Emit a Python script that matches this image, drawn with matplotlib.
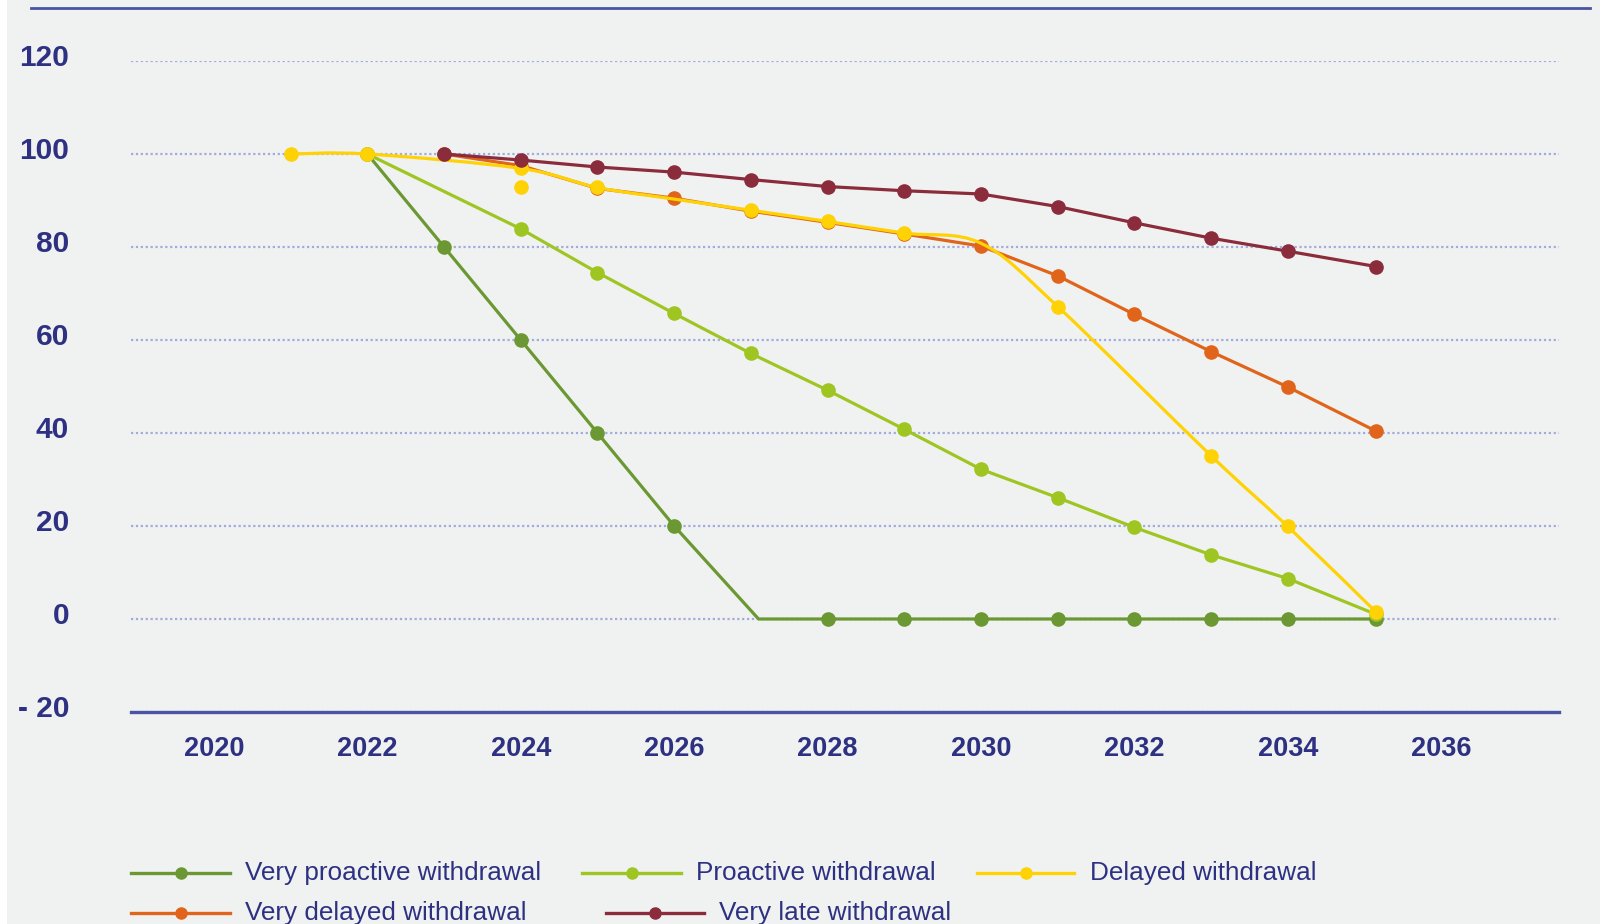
import numpy as np
import matplotlib
matplotlib.use("Agg")
import matplotlib.pyplot as plt
import matplotlib.transforms as mtransforms
from matplotlib.lines import Line2D
from matplotlib.path import Path
from matplotlib.patches import PathPatch, Rectangle

plt.rcParams['font.family'] = ['Liberation Sans', 'DejaVu Sans']

NAVY = '#2e3181'
AXIS_BLUE = '#4954a4'
GRID_BLUE = '#a3aadc'
BG = '#f0f2f1'

# withdrawal scenarios, index = 100 in 2022
vp_years = [2022, 2023, 2024, 2025, 2026, 2027.1, 2028, 2029, 2030, 2031, 2032, 2033, 2034, 2035.15]
vp_values = [100, 80, 60, 40, 20, 0, 0, 0, 0, 0, 0, 0, 0, 0]

p_years = [2022, 2024, 2025, 2026, 2027, 2028, 2029, 2030, 2031, 2032, 2033, 2034, 2035.15]
p_values = [100, 83.9, 74.5, 65.7, 57.1, 49.2, 40.8, 32.2, 26.1, 19.7, 13.8, 8.7, 1.0]

d_years = [2021, 2022, 2024, 2025, 2026, 2027, 2028, 2029, 2030, 2031, 2033, 2034, 2035.15]
d_values = [100, 100, 96.9, 92.8, 90.3, 87.9, 85.5, 83.0, 80.8, 67.2, 35.1, 19.9, 1.5]
d_extra_years = [2024]
d_extra_values = [92.8]

vd_years = [2023, 2024, 2025, 2026, 2027, 2028, 2029, 2030, 2031, 2032, 2033, 2034, 2035.15]
vd_values = [100, 97.5, 92.6, 90.5, 87.7, 85.3, 82.8, 80.2, 73.8, 65.5, 57.5, 49.9, 40.4]

vl_years = [2023, 2024, 2025, 2026, 2027, 2028, 2029, 2030, 2031, 2032, 2033, 2034, 2035.15]
vl_values = [100, 98.7, 97.2, 96.1, 94.5, 93.0, 92.1, 91.4, 88.7, 85.2, 81.9, 79.1, 75.8]

labels = ['Very proactive withdrawal', 'Proactive withdrawal', 'Delayed withdrawal',
          'Very delayed withdrawal', 'Very late withdrawal']
colors = ['#6b9832', '#9fc522', '#fed204', '#e0651a', '#8b2c3c']

x_ticks = list(range(2020, 2037, 2))
y_ticks = [-20, 0, 20, 40, 60, 80, 100, 120]
y_tick_labels = ['- 20', '0', '20', '40', '60', '80', '100', '120']


def smooth_path(xs, ys):
    # Catmull-Rom segments turned into cubic Bezier curves
    pts = np.column_stack([xs, ys]).astype(float)
    ext = np.vstack([pts[0], pts, pts[-1]])
    verts = [pts[0]]
    codes = [Path.MOVETO]
    for i in range(len(pts) - 1):
        p0, p1, p2, p3 = ext[i], ext[i + 1], ext[i + 2], ext[i + 3]
        verts += [p1 + (p2 - p0) / 6, p2 - (p3 - p1) / 6, p2]
        codes += [Path.CURVE4] * 3
    return Path(verts, codes)


fig = plt.figure(figsize=(16, 9.24), dpi=100)
fig.patch.set_facecolor('white')
fig.add_artist(Rectangle((7 / 1600, 0), 1, 1, transform=fig.transFigure,
                         facecolor=BG, edgecolor='none', zorder=-10))
fig.add_artist(Line2D([31 / 1600, 1590 / 1600], [1 - 8 / 924] * 2,
                      color=AXIS_BLUE, lw=2.0))

ax = fig.add_axes([131 / 1600, (924 - 712) / 924, (1559 - 131) / 1600, (712 - 61) / 924])
ax.set_facecolor(BG)

lw = 2.3
ms = 9.5
ax.plot(vp_years, vp_values, color=colors[0], lw=lw, marker='o', ms=ms,
        markevery=[i for i in range(len(vp_years)) if i != 5], zorder=3)
ax.plot(p_years, p_values, color=colors[1], lw=lw, marker='o', ms=ms, zorder=3)
ax.plot(vd_years, vd_values, color=colors[3], lw=lw, marker='o', ms=ms, zorder=4)

# delayed scenario drawn as a smoothed curve
ax.add_patch(PathPatch(smooth_path(d_years, d_values), facecolor='none',
                       edgecolor=colors[2], lw=lw, zorder=5))
d_marks = [i for i in range(len(d_years)) if d_years[i] not in (2026, 2030)]
ax.plot([d_years[i] for i in d_marks], [d_values[i] for i in d_marks],
        ls='none', marker='o', ms=ms, color=colors[2], zorder=5)
ax.plot(d_extra_years, d_extra_values, ls='none', marker='o', ms=ms,
        color=colors[2], zorder=5)

ax.plot(vl_years, vl_values, color=colors[4], lw=lw, marker='o', ms=ms, zorder=6)

ax.set_xlim(2018.918, 2037.536)
ax.set_ylim(-20, 120)
ax.set_xticks(x_ticks)
ax.set_yticks(y_ticks)
ax.set_yticklabels(y_tick_labels)
ax.tick_params(axis='both', length=0, labelcolor=NAVY)
ax.tick_params(axis='x', pad=17, labelsize=19.5)
ax.tick_params(axis='y', pad=44.6, labelsize=21.5)
for lab in ax.get_xticklabels() + ax.get_yticklabels():
    lab.set_fontweight('bold')
offset = mtransforms.ScaledTranslation(0, 6 / 100, fig.dpi_scale_trans)
for lab in ax.get_yticklabels():
    lab.set_transform(lab.get_transform() + offset)

for s in ['top', 'left', 'right']:
    ax.spines[s].set_visible(False)
ax.spines['bottom'].set_color(AXIS_BLUE)
ax.spines['bottom'].set_linewidth(2.4)
ax.spines['bottom'].set_zorder(7)
ax.yaxis.grid(True, color=GRID_BLUE, lw=1.6, ls=(0, (1, 1.2)))
ax.set_axisbelow(True)

# legend laid out in two rows under the axis
row1 = 1 - 873 / 924
row2 = 1 - 913 / 924
legend_pos = [(131, 230, 245, row1), (582, 681, 696, row1), (977, 1074, 1090, row1),
              (131, 230, 245, row2), (606, 704, 719, row2)]
for (x0, x1, xt, y), lab, c in zip(legend_pos, labels, colors):
    fig.add_artist(Line2D([x0 / 1600, (x0 + x1) / 3200, x1 / 1600], [y, y, y],
                          color=c, lw=2.4, marker='o', ms=8, markevery=[1]))
    fig.text(xt / 1600, y, lab, color=NAVY, fontsize=18.8, va='center', ha='left')

fig.savefig('out.png', dpi=100)
